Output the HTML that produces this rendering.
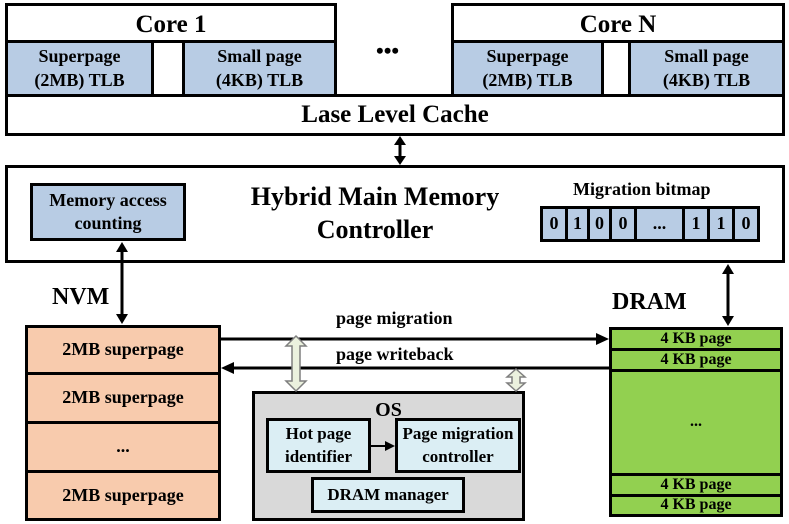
<!DOCTYPE html><html><head><style>
body{margin:0;background:#fff;width:789px;height:524px;overflow:hidden;font-family:"Liberation Serif",serif;font-weight:bold}
.b{position:absolute;box-sizing:border-box;border:3px solid #000;display:flex;align-items:center;justify-content:center;text-align:center;line-height:1.3}
.t{position:absolute;white-space:nowrap}
.bl{background:#b8cce4;font-size:18px}
</style></head><body>
<div class="b" style="left:5px;top:3px;width:332px;height:40px;align-items:flex-start;font-size:25px;padding-top:3px">Core 1</div>
<div class="b bl" style="left:5px;top:40px;width:149px;height:57px">Superpage<br>(2MB) TLB</div>
<div class="b bl" style="left:182px;top:40px;width:155px;height:57px">Small page<br>(4KB) TLB</div>
<div class="b" style="left:451px;top:3px;width:334px;height:40px;align-items:flex-start;font-size:25px;padding-top:3px">Core N</div>
<div class="b bl" style="left:451px;top:40px;width:153px;height:57px">Superpage<br>(2MB) TLB</div>
<div class="b bl" style="left:628px;top:40px;width:157px;height:57px">Small page<br>(4KB) TLB</div>
<div class="t" style="left:376px;top:38px;font-size:22px">•••</div>
<div class="b" style="left:5px;top:94px;width:780px;height:42px;font-size:25px">Lase Level Cache</div>
<div class="b" style="left:5px;top:165px;width:780px;height:98px"></div>
<div class="t" style="left:235px;top:180px;font-size:26px;text-align:center;width:280px;line-height:33px">Hybrid Main Memory<br>Controller</div>
<div class="b bl" style="left:30px;top:183px;width:156px;height:58px">Memory access<br>counting</div>
<div class="t" style="left:573px;top:179px;font-size:18px">Migration bitmap</div>
<div style="position:absolute;left:540px;top:206px;display:flex;font-size:18px">
<div class="b bl" style="position:static;width:28px;height:36px">0</div><div class="b bl" style="position:static;width:25px;height:36px;margin-left:-3px">1</div><div class="b bl" style="position:static;width:25px;height:36px;margin-left:-3px">0</div><div class="b bl" style="position:static;width:28px;height:36px;margin-left:-3px">0</div><div class="b bl" style="position:static;width:51px;height:36px;margin-left:-3px">...</div><div class="b bl" style="position:static;width:28px;height:36px;margin-left:-3px">1</div><div class="b bl" style="position:static;width:28px;height:36px;margin-left:-3px">1</div><div class="b bl" style="position:static;width:28px;height:36px;margin-left:-3px">0</div></div>
<div class="t" style="left:52px;top:284px;font-size:24px">NVM</div>
<div class="t" style="left:612px;top:289px;font-size:24px">DRAM</div>
<div class="t" style="left:336px;top:308px;font-size:18px">page migration</div>
<div class="t" style="left:336px;top:344px;font-size:18px">page writeback</div>
<div style="position:absolute;left:25px;top:325px;width:196px;height:196px;display:flex;flex-direction:column;font-size:18px">
<div class="b" style="position:static;height:50px;background:#f8cbad">2MB superpage</div>
<div class="b" style="position:static;height:52px;margin-top:-3px;background:#f8cbad">2MB superpage</div>
<div class="b" style="position:static;height:52px;margin-top:-3px;background:#f8cbad">...</div>
<div class="b" style="position:static;height:51px;margin-top:-3px;background:#f8cbad">2MB superpage</div></div>
<div style="position:absolute;left:609px;top:327px;width:174px;height:192px;display:flex;flex-direction:column;font-size:16px">
<div class="b" style="position:static;height:24px;background:#92d050">4 KB page</div>
<div class="b" style="position:static;height:24px;margin-top:-3px;background:#92d050">4 KB page</div>
<div class="b" style="position:static;height:107px;margin-top:-3px;background:#92d050">...</div>
<div class="b" style="position:static;height:24px;margin-top:-3px;background:#92d050">4 KB page</div>
<div class="b" style="position:static;height:23px;margin-top:-3px;background:#92d050">4 KB page</div></div>
<div class="b" style="left:252px;top:391px;width:273px;height:130px;background:#d9d9d9;align-items:flex-start;font-size:20px;padding-top:3px">OS</div>
<div class="b" style="left:266px;top:418px;width:105px;height:55px;background:#dbeef4;font-size:17px">Hot page<br>identifier</div>
<div class="b" style="left:395px;top:418px;width:126px;height:55px;background:#dbeef4;font-size:17px">Page migration<br>controller</div>
<div class="b" style="left:311px;top:477px;width:154px;height:36px;background:#dbeef4;font-size:17px">DRAM manager</div>
<svg width="789" height="524" style="position:absolute;left:0;top:0">
<g stroke="#000" stroke-width="3" fill="#000">
<line x1="400" y1="143" x2="400" y2="158"/><polygon points="394,145 406,145 400,136" stroke-width="0"/><polygon points="394,156 406,156 400,165" stroke-width="0"/>
<line x1="122" y1="250" x2="122" y2="316"/><polygon points="116,252 128,252 122,242" stroke-width="0"/><polygon points="116,314 128,314 122,324" stroke-width="0"/>
<line x1="728" y1="272" x2="728" y2="318"/><polygon points="722,274 734,274 728,264" stroke-width="0"/><polygon points="722,316 734,316 728,326" stroke-width="0"/>
<line x1="221" y1="339" x2="598" y2="339"/><polygon points="596,333 596,345 609,339" stroke-width="0"/>
<line x1="232" y1="368" x2="609" y2="368"/><polygon points="234,362 234,374 221,368" stroke-width="0"/>
<line x1="370" y1="446" x2="386" y2="446" stroke-width="2"/><polygon points="385,441 385,451 395,446" stroke-width="0"/>
</g>
<g fill="#ebf1de" stroke="#7f7f7f" stroke-width="1.5">
<polygon points="296,336 306,346 300,346 300,381 306,381 296,391 286,381 292,381 292,346 286,346"/>
<polygon points="516,369 525,377 520,377 520,383 525,383 516,391 507,383 512,383 512,377 507,377"/>
</g></svg>
</body></html>
